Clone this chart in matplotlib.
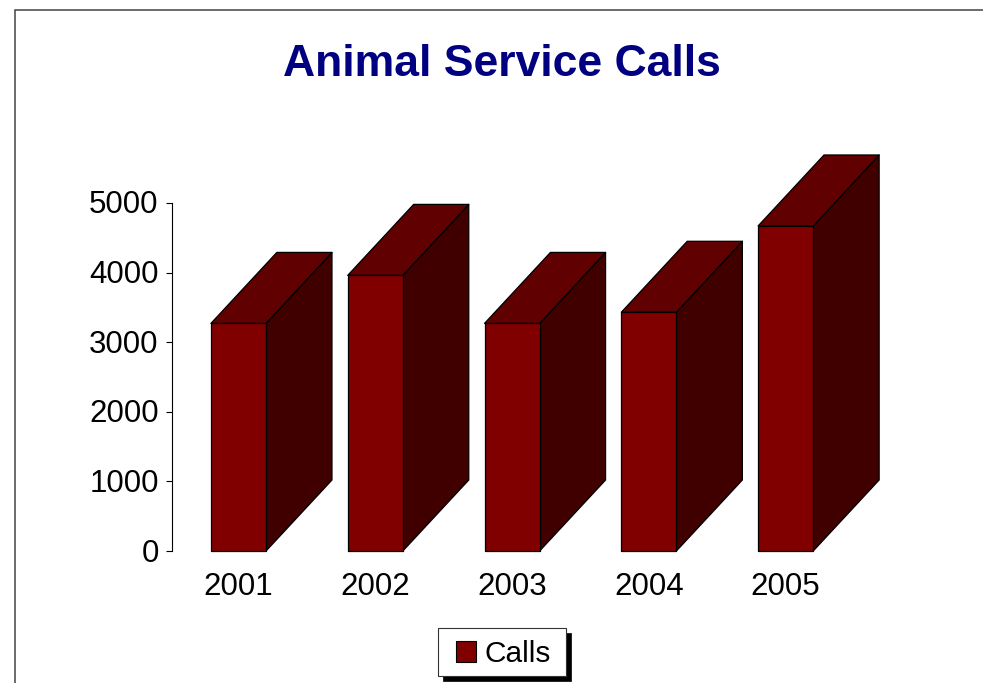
import matplotlib
matplotlib.use("Agg")
import matplotlib.pyplot as plt
from matplotlib.patches import Polygon, Patch, Rectangle
from matplotlib.transforms import ScaledTranslation

years = ["2001", "2002", "2003", "2004", "2005"]
calls = [3270, 3960, 3270, 3430, 4670]
yticks = [0, 1000, 2000, 3000, 4000, 5000]
title = "Animal Service Calls"
series_name = "Calls"

W, H = 983, 683
FRONT, TOP, SIDE = "#800000", "#600000", "#400000"
BAR_W = 0.403
DX, DY = 0.482, 1020

plt.rcParams["font.family"] = ["Liberation Sans", "DejaVu Sans"]
fig = plt.figure(figsize=(W / 100, H / 100), dpi=100, facecolor="white")

fig.add_artist(Rectangle((15 / W, -0.1), 1.1, 1.1 - 9.5 / H, transform=fig.transFigure,
                         fill=False, ec="#444444", lw=1.1))

ax = fig.add_axes([172 / W, (H - 551) / H, (855 - 172) / W, 348 / H])
ax.set_xlim(-0.486, 4.507)
ax.set_ylim(0, 5000)
ax.patch.set_visible(False)
for s in ("top", "right", "bottom"):
    ax.spines[s].set_visible(False)
ax.spines["left"].set_linewidth(0.8)
ax.set_yticks(yticks)
ax.set_xticks(range(len(years)))
ax.set_xticklabels(years)
ax.tick_params(axis="y", length=4.6, width=0.8, labelsize=22.5, pad=5)
ax.tick_params(axis="x", length=0, labelsize=22.5, pad=15)
nudge = ScaledTranslation(0, 1 / 100, fig.dpi_scale_trans)
for lab in ax.get_yticklabels():
    lab.set_transform(lab.get_transform() + nudge)

for i, v in enumerate(calls):
    l, r = i - BAR_W / 2, i + BAR_W / 2
    faces = [
        ([(r, 0), (r + DX, DY), (r + DX, v + DY), (r, v)], SIDE),
        ([(l, v), (l + DX, v + DY), (r + DX, v + DY), (r, v)], TOP),
        ([(l, 0), (r, 0), (r, v), (l, v)], FRONT),
    ]
    for pts, c in faces:
        ax.add_patch(Polygon(pts, closed=True, fc=c, ec="black", lw=0.9,
                             clip_on=False, joinstyle="round"))

fig.text(502 / W, 1 - 65 / H, title, ha="center", va="center",
         fontsize=32, fontweight="bold", color="#000080")

# legend box and its hard shadow, with the legend entry on top
box_x, box_y, box_w, box_h = 438, 628, 128, 48
fig.add_artist(Rectangle(((box_x + 5) / W, 1 - (box_y + box_h + 5) / H), box_w / W, box_h / H,
                         transform=fig.transFigure, fc="black", ec="black", lw=0.5))
fig.add_artist(Rectangle((box_x / W, 1 - (box_y + box_h) / H), box_w / W, box_h / H,
                         transform=fig.transFigure, fc="white", ec="#333333", lw=0.8))
leg = fig.legend(handles=[Patch(fc=FRONT, ec="black", lw=0.8, label=series_name)],
                 loc="center", bbox_to_anchor=(503.5 / W, 1 - 654 / H),
                 fontsize=21.5, frameon=False, handlelength=0.66, handleheight=0.66,
                 handletextpad=0.3, borderpad=0, borderaxespad=0)

fig.savefig("out.png", dpi=100)
